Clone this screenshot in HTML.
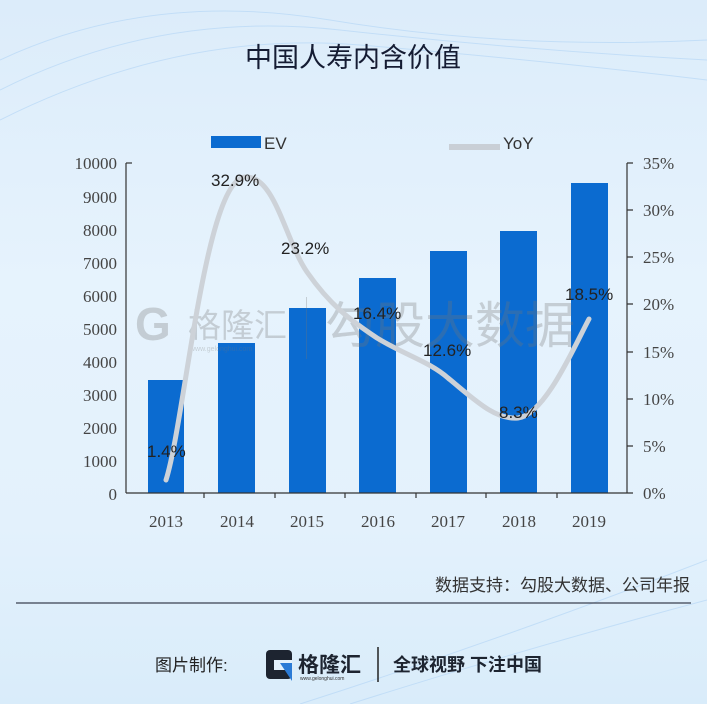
<!DOCTYPE html>
<html><head><meta charset="utf-8"><style>
html,body{margin:0;padding:0}
body{width:707px;height:704px;overflow:hidden;background:linear-gradient(180deg,#dcecfa 0%,#e6f3fd 40%,#e3f1fc 75%,#d9ecfa 100%);font-family:"Liberation Sans","Noto Sans CJK SC",sans-serif;position:relative}
</style></head><body>
<svg width="707" height="704" style="position:absolute;left:0;top:0">
<g stroke="#b8d8f6" stroke-width="1" fill="none" opacity="0.7">
<path d="M0 60 Q150 -10 330 20 T707 40"/>
<path d="M0 90 Q160 10 340 30 T707 60"/>
<path d="M0 120 Q180 30 360 45 T707 80"/>
<path d="M300 704 Q500 640 707 560"/>
<path d="M350 704 Q520 650 707 600"/>
</g>
<text x="353" y="67" font-size="27" text-anchor="middle" fill="#151c33" font-family="Liberation Sans,Noto Sans CJK SC,sans-serif">中国人寿内含价值</text>
<rect x="211" y="136" width="50" height="12" fill="#0b6bd0"/>
<text x="264" y="149" font-size="17" fill="#333">EV</text>
<line x1="449" y1="147" x2="500" y2="147" stroke="#c9cfd6" stroke-width="6"/>
<text x="503" y="149" font-size="17" fill="#333">YoY</text>
<g fill="#0b6bd0">
<rect x="148" y="380" width="36" height="113"/>
<rect x="218" y="343" width="37" height="150"/>
<rect x="289" y="308" width="37" height="185"/>
<rect x="359" y="278" width="37" height="215"/>
<rect x="430" y="251" width="37" height="242"/>
<rect x="500" y="231" width="37" height="262"/>
<rect x="571" y="183" width="37" height="310"/>
</g>
<g opacity="0.3" fill="#777">
<text x="135" y="340" font-size="46" font-weight="bold">G</text>
<text x="188" y="337" font-size="33">格隆汇</text>
<text x="190" y="351" font-size="7">www.gelonghui.com</text>
<rect x="306" y="297" width="1" height="62"/>
<text x="325" y="343" font-size="50">勾股大数据</text>
</g>
<g stroke="#333" stroke-width="1.2" fill="none">
<line x1="126" y1="163" x2="126" y2="493"/>
<line x1="126" y1="493" x2="627" y2="493"/>
<line x1="627" y1="163" x2="627" y2="493"/>
<line x1="126" y1="163" x2="132" y2="163"/>
<path d="M627 163h6M627 210h6M627 257h6M627 304h6M627 352h6M627 399h6M627 446h6M627 493h6"/>
<path d="M204 493v5M275 493v5M345 493v5M416 493v5M486 493v5M557 493v5"/>
</g>
<g font-size="17" fill="#444" text-anchor="end" font-family="Liberation Serif,serif">
<text x="117" y="169">10000</text><text x="117" y="203">9000</text><text x="117" y="236">8000</text><text x="117" y="269">7000</text><text x="117" y="302">6000</text><text x="117" y="335">5000</text><text x="117" y="368">4000</text><text x="117" y="401">3000</text><text x="117" y="434">2000</text><text x="117" y="467">1000</text><text x="117" y="500">0</text>
</g>
<g font-size="17" fill="#444" font-family="Liberation Serif,serif">
<text x="643" y="169">35%</text><text x="643" y="216">30%</text><text x="643" y="263">25%</text><text x="643" y="310">20%</text><text x="643" y="358">15%</text><text x="643" y="405">10%</text><text x="643" y="452">5%</text><text x="643" y="499">0%</text>
</g>
<g font-size="17" fill="#444" text-anchor="middle" font-family="Liberation Serif,serif">
<text x="166" y="527">2013</text><text x="237" y="527">2014</text><text x="307" y="527">2015</text><text x="378" y="527">2016</text><text x="448" y="527">2017</text><text x="519" y="527">2018</text><text x="589" y="527">2019</text>
</g>
<path d="M166 480 C185 420 205 180 245 177 C275 175 285 240 307 272 C330 305 350 320 377 338 C405 355 430 362 448 378 C475 400 495 420 518 418 C545 415 575 345 589 319" stroke="#cdd2d8" stroke-width="5" fill="none" stroke-linecap="round"/>
<g font-size="17" fill="#222">
<text x="147" y="457">1.4%</text>
<text x="211" y="186">32.9%</text>
<text x="281" y="254">23.2%</text>
<text x="353" y="319">16.4%</text>
<text x="423" y="356">12.6%</text>
<text x="499" y="418">8.3%</text>
<text x="565" y="300">18.5%</text>
</g>
<text x="690" y="591" font-size="17" text-anchor="end" fill="#333">数据支持：勾股大数据、公司年报</text>
<line x1="16" y1="603" x2="691" y2="603" stroke="#3a4050" stroke-width="1.2"/>
<text x="155" y="671" font-size="17" fill="#222">图片制作:</text>
<rect x="266" y="650" width="26" height="29" rx="4" fill="#1d2430"/>
<rect x="274" y="660" width="18" height="10" fill="#e3f1fc"/>
<path d="M280 663 L292 663 L292 681 Z" fill="#2b7bd6"/>
<text x="298" y="672" font-size="21" font-weight="bold" fill="#1d2430">格隆汇</text>
<text x="300" y="680" font-size="5" fill="#333">www.gelonghui.com</text>
<line x1="378" y1="647" x2="378" y2="682" stroke="#222" stroke-width="1.5"/>
<text x="393" y="671" font-size="18" font-weight="bold" fill="#1d2430">全球视野 下注中国</text>
</svg>
</body></html>
